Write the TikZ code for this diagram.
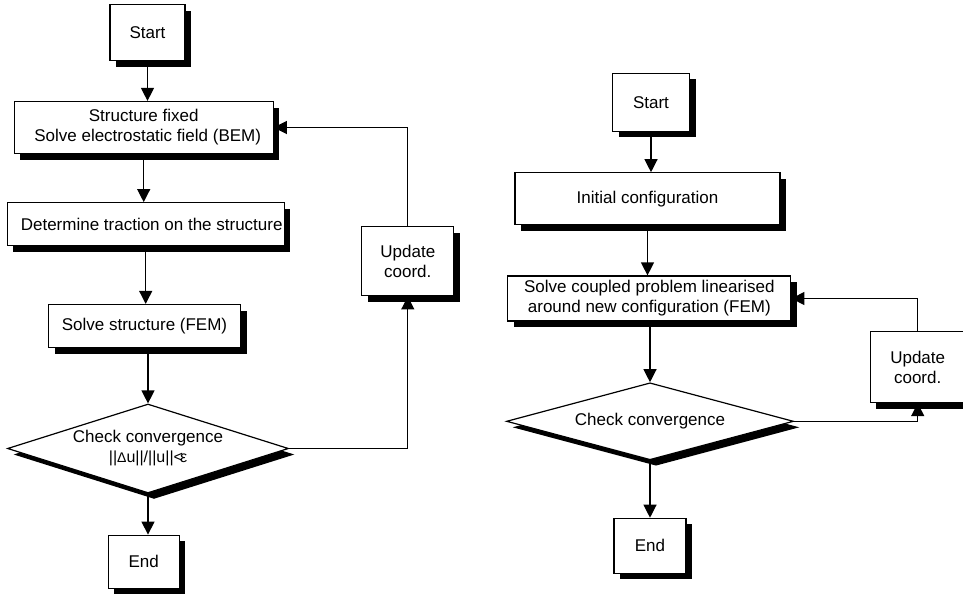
\documentclass[tikz,border=0pt]{standalone}
\usepackage{fontspec}
\setmainfont{Liberation Sans}
\usetikzlibrary{shapes.geometric,shadows,arrows.meta,backgrounds}
\begin{document}
\begin{tikzpicture}[x=1pt,y=-1pt,
  font=\fontsize{17}{20}\selectfont,
  shad/.style={drop shadow={shadow xshift=6pt, shadow yshift=-6pt, fill=black, opacity=1}},
  box/.style={rectangle, draw=black, fill=white, line width=1.2pt, inner sep=0pt, align=center, shad},
  dia/.style={diamond, draw=black, fill=white, line width=1.2pt, inner sep=0pt, align=center, shad},
  conn/.style={line width=1.2pt},
  arr/.style={conn, -{Triangle[length=13pt,width=13pt]}}
]
\useasboundingbox (0,0) rectangle (963,597);

% left flowchart
\node[box, minimum width=75pt, minimum height=56pt] (s1) at (147.5,32.5) {Start};
\node[box, minimum width=259pt, minimum height=52pt] (b1) at (143.7,127.5) {Structure fixed\\\hspace*{8pt}Solve electrostatic field (BEM)};
\node[box, minimum width=277pt, minimum height=43pt] (b2) at (145.7,224.2) {\hspace*{12pt}Determine traction on the structure};
\node[box, minimum width=192pt, minimum height=43pt] (b3) at (144.5,326) {Solve structure (FEM)};
\node[dia, aspect=3.16, minimum width=281pt, minimum height=89pt] (d1) at (148,448.5) {Check convergence\\{\fontsize{16}{19}\selectfont ||{\fontsize{14}{14}\selectfont Δ}u||/||u||<\kern-3pt ε}};
\node[box, minimum width=71pt, minimum height=53pt] (e1) at (143.7,561.7) {End};
\node[box, minimum width=92pt, minimum height=69pt] (u1) at (407.8,261.3) {Update\\coord.};

% right flowchart
\node[box, minimum width=77pt, minimum height=58pt] (s2) at (651,102.2) {Start};
\node[box, minimum width=265pt, minimum height=52pt] (b4) at (647.5,198.8) {Initial configuration};
\node[box, minimum width=283pt, minimum height=45pt] (b5) at (649.3,298.5) {Solve coupled problem linearised\\around new configuration (FEM)};
\node[dia, aspect=3.7, minimum width=287pt, minimum height=77pt] (d2) at (650,421.3) {\raisebox{4pt}{Check convergence}};
\node[box, minimum width=72pt, minimum height=55pt] (e2) at (650,545.8) {End};
\node[box, minimum width=95pt, minimum height=71pt] (u2) at (917.7,367) {Update\\coord.};

\begin{scope}[on background layer]
  % left connectors
  \draw[arr] (s1.south) -- (s1.south |- b1.north);
  \draw[arr] (b1.south) -- (b1.south |- b2.north);
  \draw[arr] (b2.south) -- (b2.south |- b3.north);
  \draw[arr] (d1.north |- b3.south) -- (d1.north);
  \draw[arr] (d1.south) -- (d1.south |- e1.north);
  \draw[arr] (d1.east) -- (u1.south |- d1.east) -- (u1.south);
  \draw[arr] (u1.north) -- (u1.north |- b1.east) -- (b1.east);
  % right connectors
  \draw[arr] (s2.south) -- (s2.south |- b4.north);
  \draw[arr] (b4.south) -- (b4.south |- b5.north);
  \draw[arr] (d2.north |- b5.south) -- (d2.north);
  \draw[arr] (d2.south) -- (d2.south |- e2.north);
  \draw[arr] (d2.east) -- (u2.south |- d2.east) -- (u2.south);
  \draw[arr] (u2.north) -- (u2.north |- b5.east) -- (b5.east);
\end{scope}
\end{tikzpicture}
\end{document}
